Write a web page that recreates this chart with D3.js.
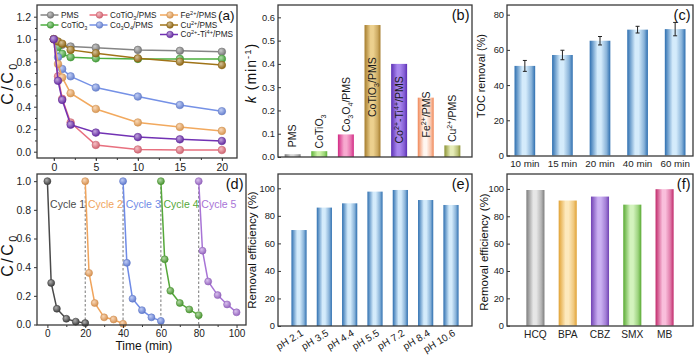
<!DOCTYPE html>
<html><head><meta charset="utf-8">
<script src="https://cdn.jsdelivr.net/npm/d3@7"></script>
<style>
html,body{margin:0;padding:0;background:#fff;}
svg{display:block;}
</style></head><body>
<svg id="chart" width="700" height="356"></svg>
<script>
// ================= DATA =================
// (a) degradation kinetics
const timeA = [0, 0.5, 1, 2, 5, 10, 15, 20];
const seriesA = ["PMS", "CoTiO_3", "CoTiO_3/PMS", "Co_3O_4/PMS", "Fe^{2+}/PMS", "Cu^{2+}/PMS", "Co^{2+}-Ti^{4+}/PMS"];
const pmsA      = [1.0, 0.97, 0.95, 0.935, 0.925, 0.905, 0.897, 0.888];
const cotio3A   = [1.0, 0.93, 0.87, 0.84, 0.83, 0.825, 0.825, 0.825];
const cotio3PmsA= [1.0, 0.67, 0.47, 0.26, 0.06, 0.02, 0.015, 0.015];
const co3o4A    = [1.0, 0.84, 0.735, 0.67, 0.57, 0.49, 0.415, 0.36];
const feA       = [1.0, 0.78, 0.66, 0.52, 0.38, 0.26, 0.22, 0.185];
const cuA       = [1.0, 0.98, 0.96, 0.905, 0.875, 0.83, 0.80, 0.77];
const coTiA     = [1.0, 0.63, 0.46, 0.24, 0.17, 0.13, 0.11, 0.095];
const valuesA = [pmsA, cotio3A, cotio3PmsA, co3o4A, feA, cuA, coTiA];
const ticksAx = [0, 5, 10, 15, 20];
const ticksAy = [0.0, 0.2, 0.4, 0.6, 0.8, 1.0, 1.2];

// (b) rate constants
const catB = ["PMS", "CoTiO_3", "Co_3O_4/PMS", "CoTiO_3/PMS", "Co^{2+}-Ti^{4+}/PMS", "Fe^{2+}/PMS", "Cu^{2+}/PMS"];
const kB = [0.012, 0.025, 0.097, 0.567, 0.40, 0.255, 0.05];
const labelAtB = [0.042, 0.037, 0.107, 0.172, 0.058, 0.084, 0.064];
const ticksBy = [0.0, 0.1, 0.2, 0.3, 0.4, 0.5, 0.6];

// (c) TOC removal
const catC = ["10 min", "15 min", "20 min", "40 min", "60 min"];
const tocC = [50.9, 57.1, 65.2, 71.5, 71.8];
const errC = [3.1, 2.7, 2.4, 1.9, 3.8];
const ticksCy = [0, 20, 40, 60, 80];

// (d) cycling
const cyclesD = ["Cycle 1", "Cycle 2", "Cycle 3", "Cycle 4", "Cycle 5"];
const t1 = [0, 2, 5, 10, 15, 20],   v1 = [1.0, 0.29, 0.11, 0.04, 0.02, 0.01];
const t2 = [20, 22, 25, 30, 35, 40], v2 = [1.0, 0.36, 0.15, 0.05, 0.035, 0.005];
const t3 = [40, 42, 45, 50, 55, 60], v3 = [1.0, 0.43, 0.18, 0.10, 0.05, 0.025];
const t4 = [60, 62, 65, 70, 75, 80], v4 = [1.0, 0.455, 0.235, 0.15, 0.105, 0.065];
const t5 = [80, 82, 85, 90, 95, 100], v5 = [1.0, 0.515, 0.30, 0.205, 0.14, 0.085];
const timesD = [t1, t2, t3, t4, t5];
const valuesD = [v1, v2, v3, v4, v5];
const ticksDx = [0, 20, 40, 60, 80, 100];
const ticksDy = [0.0, 0.2, 0.4, 0.6, 0.8, 1.0];

// (e) pH effect
const catE = ["pH 2.1", "pH 3.5", "pH 4.4", "pH 5.5", "pH 7.2", "pH 8.4", "pH 10.6"];
const valE = [69.7, 86.0, 89.1, 97.6, 98.8, 91.5, 87.9];
const ticksEy = [0, 20, 40, 60, 80, 100];

// (f) pollutants
const catF = ["HCQ", "BPA", "CBZ", "SMX", "MB"];
const valF = [99.2, 91.5, 94.4, 88.5, 99.8];
const ticksFy = [0, 20, 40, 60, 80, 100];

// ================= STYLE =================
const FONT = '"Liberation Sans", Arial, Helvetica, sans-serif';
const colA = ["#858585", "#4caf3f", "#e8707f", "#7591e6", "#f2a95e", "#a07418", "#7232b4"];
const colD = ["#4a4a4a", "#f0a45c", "#6f8be6", "#55a83a", "#a874d6"];
const gradB = [["#7b7b7b", "#d8d8d8"], ["#5eb338", "#cdf2a8"], ["#d22a84", "#f7a9cf"], ["#a57c2c", "#ecd08e"],
               ["#5b2fb4", "#a887ee"], ["#f08757", "#fff6f0"], ["#8b9234", "#e6ecb8"]];
const gradF = [["#7d7d7d", "#e6e6e6"], ["#e1a235", "#fde9bd"], ["#7142b4", "#cbb0f2"], ["#5aab34", "#d3f3bd"], ["#c12a6b", "#f9bedb"]];
const blueGrad = ["#2e6fb0", "#d4ebfb"];

const svg = d3.select("#chart").attr("font-family", FONT);
const defs = svg.append("defs");

function barGrad(id, dark, light) {
  const g = defs.append("linearGradient").attr("id", id)
    .attr("x1", "0%").attr("x2", "100%").attr("y1", "0%").attr("y2", "0%");
  const mid = d3.interpolateRgb(dark, light)(0.55);
  [[0, dark], [0.38, light], [0.55, light], [0.82, mid], [1, dark]].forEach(s =>
    g.append("stop").attr("offset", s[0]).attr("stop-color", s[1]));
  return `url(#${id})`;
}
function sphereGrad(id, color) {
  const g = defs.append("radialGradient").attr("id", id)
    .attr("cx", "38%").attr("cy", "35%").attr("r", "65%");
  g.append("stop").attr("offset", 0).attr("stop-color", d3.interpolateRgb(color, "#ffffff")(0.55));
  g.append("stop").attr("offset", 1).attr("stop-color", d3.color(color).darker(0.3));
  return `url(#${id})`;
}

// rich text: _x / _{..} subscript, ^{..} superscript, *..* italic
function rich(sel, str, size) {
  const re = /(\*[^*]*\*|_\{[^}]*\}|\^\{[^}]*\}|_.|\^.)/g;
  const parts = str.split(re).filter(p => p);
  let shift = 0;
  parts.forEach(p => {
    let kind = 0, t = p, ital = false;
    if (p[0] === "*") { t = p.slice(1, -1); ital = true; }
    else if (p[0] === "_") { kind = 1; t = p[1] === "{" ? p.slice(2, -1) : p.slice(1); }
    else if (p[0] === "^") { kind = 2; t = p[1] === "{" ? p.slice(2, -1) : p.slice(1); }
    const target = kind === 1 ? size * 0.28 : kind === 2 ? -size * 0.36 : 0;
    const ts = sel.append("tspan").text(t);
    if (target - shift !== 0) ts.attr("dy", target - shift);
    if (kind) ts.attr("font-size", size * 0.68);
    if (ital) ts.attr("font-style", "italic");
    shift = target;
  });
  return sel;
}

function styleAxis(g, size) {
  g.attr("font-family", FONT).attr("font-size", size);
  g.select(".domain").remove();
  g.selectAll("line").attr("stroke", "#333").attr("stroke-width", 1);
  g.selectAll("text").attr("fill", "#222");
}
function box(P) {
  svg.append("rect").attr("x", P.x0).attr("y", P.y0).attr("width", P.x1 - P.x0).attr("height", P.y1 - P.y0)
    .attr("fill", "none").attr("stroke", "#3a3a3a").attr("stroke-width", 1.3);
}
function panelLabel(P, txt, yy, size) {
  svg.append("text").attr("x", P.x1 - 2.5).attr("y", yy).attr("text-anchor", "end")
    .attr("font-size", size || 14.5).attr("fill", "#111").text(txt);
}
function yTitle(x, y, str, size, ls) {
  const t = svg.append("text").attr("transform", `translate(${x},${y}) rotate(-90)`)
    .attr("text-anchor", "middle").attr("font-size", size).attr("fill", "#111")
    .attr("letter-spacing", ls || 0);
  rich(t, str, size);
}
const TICK = 10;
const TICK2 = 9.3;

// ================= PANEL A =================
const PA = { x0: 37, x1: 237, y0: 5, y1: 158 };
const xA = d3.scaleLinear().domain([-2, 21.8]).range([PA.x0, PA.x1]);
const yA = d3.scaleLinear().domain([-0.056, 1.304]).range([PA.y1, PA.y0]);
{
  const lineA = d3.line().x((d, i) => xA(timeA[i])).y(d => yA(d));
  seriesA.forEach((s, si) => {
    const fill = sphereGrad("sa" + si, colA[si]);
    const g = svg.append("g");
    g.append("path").attr("d", lineA(valuesA[si])).attr("fill", "none")
      .attr("stroke", colA[si]).attr("stroke-width", 1.5);
    g.selectAll("circle").data(valuesA[si]).join("circle")
      .attr("cx", (d, i) => xA(timeA[i])).attr("cy", d => yA(d)).attr("r", 3.8)
      .attr("fill", fill).attr("stroke", d3.color(colA[si]).darker(0.4)).attr("stroke-width", 0.6);
  });
  const gx = svg.append("g").attr("transform", `translate(0,${PA.y1})`)
    .call(d3.axisBottom(xA).tickValues(ticksAx).tickSize(3).tickPadding(3).tickFormat(d3.format("d")));
  styleAxis(gx, 10.5);
  const gxm = svg.append("g").attr("transform", `translate(0,${PA.y1})`)
    .call(d3.axisBottom(xA).tickValues(d3.range(0, 21, 2.5)).tickSize(2).tickFormat(""));
  styleAxis(gxm, TICK);
  const gy = svg.append("g").attr("transform", `translate(${PA.x0},0)`)
    .call(d3.axisLeft(yA).tickValues(ticksAy).tickSize(3).tickPadding(3).tickFormat(d3.format(".1f")));
  styleAxis(gy, 10.5);
  const gym = svg.append("g").attr("transform", `translate(${PA.x0},0)`)
    .call(d3.axisLeft(yA).tickValues(d3.range(0.1, 1.3, 0.2)).tickSize(2).tickFormat(""));
  styleAxis(gym, TICK);
  box(PA);
  panelLabel(PA, "(a)", 20, 13.5);
  yTitle(13, 83, "C/C_0", 16, 2.5);

  // legend
  const cols = [50.5, 99.5, 170];
  const rows = [15, 25, 34.5];
  const pos = [[0, 0], [0, 1], [1, 0], [1, 1], [2, 0], [2, 1], [2, 2]];
  seriesA.forEach((s, si) => {
    const cx = cols[pos[si][0]], cy = rows[pos[si][1]];
    svg.append("line").attr("x1", cx - 10).attr("x2", cx + 8).attr("y1", cy).attr("y2", cy)
      .attr("stroke", colA[si]).attr("stroke-width", 1.5);
    svg.append("circle").attr("cx", cx).attr("cy", cy).attr("r", 3.3)
      .attr("fill", `url(#sa${si})`).attr("stroke", d3.color(colA[si]).darker(0.4)).attr("stroke-width", 0.6);
    const t = svg.append("text").attr("x", cx + 10.5).attr("y", cy + 2.9).attr("font-size", 8.2).attr("fill", "#222");
    rich(t, s, 8.2);
  });
}

// ================= PANEL B =================
const PB = { x0: 278, x1: 472, y0: 5, y1: 157 };
const xB = d3.scaleBand().domain(catB).range([PB.x0, PB.x1 - 5]).paddingInner(0.4).paddingOuter(0.25);
const yB = d3.scaleLinear().domain([0, 0.653]).range([PB.y1, PB.y0]);
{
  catB.forEach((c, i) => {
    const f = barGrad("gb" + i, gradB[i][0], gradB[i][1]);
    svg.append("rect").attr("x", xB(c)).attr("y", yB(kB[i])).attr("width", xB.bandwidth())
      .attr("height", yB(0) - yB(kB[i])).attr("fill", f);
    const cx = xB(c) + xB.bandwidth() / 2;
    const t = svg.append("text").attr("transform", `translate(${cx + 3.8},${yB(labelAtB[i])}) rotate(-90)`)
      .attr("font-size", 10.5).attr("fill", "#1a1a1a");
    rich(t, c, 10.5);
  });
  const gy = svg.append("g").attr("transform", `translate(${PB.x0},0)`)
    .call(d3.axisLeft(yB).tickValues(ticksBy).tickSize(-3).tickPadding(3).tickFormat(d3.format(".1f")));
  styleAxis(gy, TICK2);
  box(PB);
  panelLabel(PB, "(b)", 20);
  yTitle(256, 73, "*k* (min^{-1})", 14, 1);
}

// ================= PANEL C =================
const PC = { x0: 507, x1: 693, y0: 5, y1: 156 };
const xC = d3.scaleBand().domain(catC).range([PC.x0, PC.x1]).paddingInner(0.45).paddingOuter(0.2);
const yC = d3.scaleLinear().domain([0, 85.5]).range([155.5, PC.y0]);
{
  const f = barGrad("gc", blueGrad[0], blueGrad[1]);
  catC.forEach((c, i) => {
    svg.append("rect").attr("x", xC(c)).attr("y", yC(tocC[i])).attr("width", xC.bandwidth())
      .attr("height", yC(0) - yC(tocC[i])).attr("fill", f);
    const cx = xC(c) + xC.bandwidth() / 2;
    const g = svg.append("g").attr("stroke", "#222").attr("stroke-width", 1);
    g.append("line").attr("x1", cx).attr("x2", cx).attr("y1", yC(tocC[i] - errC[i])).attr("y2", yC(tocC[i] + errC[i]));
    [tocC[i] - errC[i], tocC[i] + errC[i]].forEach(v =>
      g.append("line").attr("x1", cx - 2).attr("x2", cx + 2).attr("y1", yC(v)).attr("y2", yC(v)));
  });
  const gx = svg.append("g").attr("transform", `translate(0,${PC.y1})`)
    .call(d3.axisBottom(xC).tickSize(0).tickPadding(4));
  styleAxis(gx, 9.8);
  const gy = svg.append("g").attr("transform", `translate(${PC.x0},0)`)
    .call(d3.axisLeft(yC).tickValues(ticksCy).tickSize(-3).tickPadding(3).tickFormat(d3.format("d")));
  styleAxis(gy, TICK2);
  box(PC);
  panelLabel(PC, "(c)", 20);
  yTitle(485, 76, "TOC removal (%)", 10.8, 0);
}

// ================= PANEL D =================
const PD = { x0: 37, x1: 246, y0: 174, y1: 325 };
const xD = d3.scaleLinear().domain([-5.5, 105]).range([PD.x0, PD.x1]);
const yD = d3.scaleLinear().domain([0, 1.05]).range([324.5, PD.y0]);
{
  [20, 40, 60, 80].forEach(t => {
    svg.append("line").attr("x1", xD(t)).attr("x2", xD(t)).attr("y1", yD(0)).attr("y2", yD(1))
      .attr("stroke", "#777").attr("stroke-width", 1).attr("stroke-dasharray", "2.5,2");
  });
  const lineD = d3.line();
  cyclesD.forEach((c, ci) => {
    const fill = sphereGrad("sd" + ci, colD[ci]);
    const pts = timesD[ci].map((t, i) => [xD(t), yD(valuesD[ci][i])]);
    svg.append("path").attr("d", lineD(pts)).attr("fill", "none").attr("stroke", colD[ci]).attr("stroke-width", 1.5);
    svg.append("g").selectAll("circle").data(pts).join("circle")
      .attr("cx", d => d[0]).attr("cy", d => d[1]).attr("r", 3.5)
      .attr("fill", fill).attr("stroke", d3.color(colD[ci]).darker(0.4)).attr("stroke-width", 0.6);
    svg.append("text").attr("x", xD(timesD[ci][0] + 1.4)).attr("y", yD(0.84)).attr("dy", "0.35em")
      .attr("font-size", 10.5).attr("fill", colD[ci]).text(c);
  });
  const gx = svg.append("g").attr("transform", `translate(0,${PD.y1})`)
    .call(d3.axisBottom(xD).tickValues(ticksDx).tickSize(3).tickPadding(2).tickFormat(d3.format("d")));
  styleAxis(gx, TICK);
  const gxm = svg.append("g").attr("transform", `translate(0,${PD.y1})`)
    .call(d3.axisBottom(xD).tickValues(d3.range(10, 100, 20)).tickSize(2).tickFormat(""));
  styleAxis(gxm, TICK);
  const gy = svg.append("g").attr("transform", `translate(${PD.x0},0)`)
    .call(d3.axisLeft(yD).tickValues(ticksDy).tickSize(3).tickPadding(3).tickFormat(d3.format(".1f")));
  styleAxis(gy, 10.5);
  box(PD);
  panelLabel(PD, "(d)", 189);
  yTitle(13, 255, "C/C_0", 16, 2.5);
  svg.append("text").attr("x", xD(51)).attr("y", 350).attr("text-anchor", "middle")
    .attr("font-size", 12).attr("fill", "#111").text("Time (min)");
}

// ================= PANEL E =================
const PE = { x0: 278, x1: 472, y0: 174, y1: 326 };
const xE = d3.scaleBand().domain(catE).range([PE.x0, PE.x1]).paddingInner(0.4).paddingOuter(0.53);
const yE = d3.scaleLinear().domain([0, 110.4]).range([PE.y1, PE.y0]);
{
  const f = barGrad("ge", blueGrad[0], blueGrad[1]);
  catE.forEach((c, i) => {
    svg.append("rect").attr("x", xE(c)).attr("y", yE(valE[i])).attr("width", xE.bandwidth())
      .attr("height", yE(0) - yE(valE[i])).attr("fill", f);
    const cx = xE(c) + xE.bandwidth() / 2;
    svg.append("text").attr("transform", `translate(${cx + 5},${PE.y1 + 9}) rotate(-31)`)
      .attr("text-anchor", "end").attr("font-size", 10).attr("fill", "#222").text(c);
  });
  const gy = svg.append("g").attr("transform", `translate(${PE.x0},0)`)
    .call(d3.axisLeft(yE).tickValues(ticksEy).tickSize(-3).tickPadding(3).tickFormat(d3.format("d")));
  styleAxis(gy, TICK2);
  box(PE);
  panelLabel(PE, "(e)", 189);
  yTitle(256, 250, "Removal efficiency (%)", 11.5, 0);
}

// ================= PANEL F =================
const PF = { x0: 507, x1: 693, y0: 174, y1: 326 };
const xF = d3.scaleBand().domain(catF).range([PF.x0, PF.x1]).paddingInner(0.44).paddingOuter(0.6);
const yF = d3.scaleLinear().domain([0, 110.9]).range([325.7, PF.y0]);
{
  catF.forEach((c, i) => {
    const f = barGrad("gf" + i, gradF[i][0], gradF[i][1]);
    svg.append("rect").attr("x", xF(c)).attr("y", yF(valF[i])).attr("width", xF.bandwidth())
      .attr("height", yF(0) - yF(valF[i])).attr("fill", f);
  });
  const gx = svg.append("g").attr("transform", `translate(0,${PF.y1})`)
    .call(d3.axisBottom(xF).tickSize(0).tickPadding(5));
  styleAxis(gx, 10.2);
  const gy = svg.append("g").attr("transform", `translate(${PF.x0},0)`)
    .call(d3.axisLeft(yF).tickValues(ticksFy).tickSize(-3).tickPadding(3).tickFormat(d3.format("d")));
  styleAxis(gy, TICK2);
  box(PF);
  panelLabel(PF, "(f)", 189);
  yTitle(488, 252, "Removal efficiency (%)", 11.5, 0);
}
</script>
</body></html>
